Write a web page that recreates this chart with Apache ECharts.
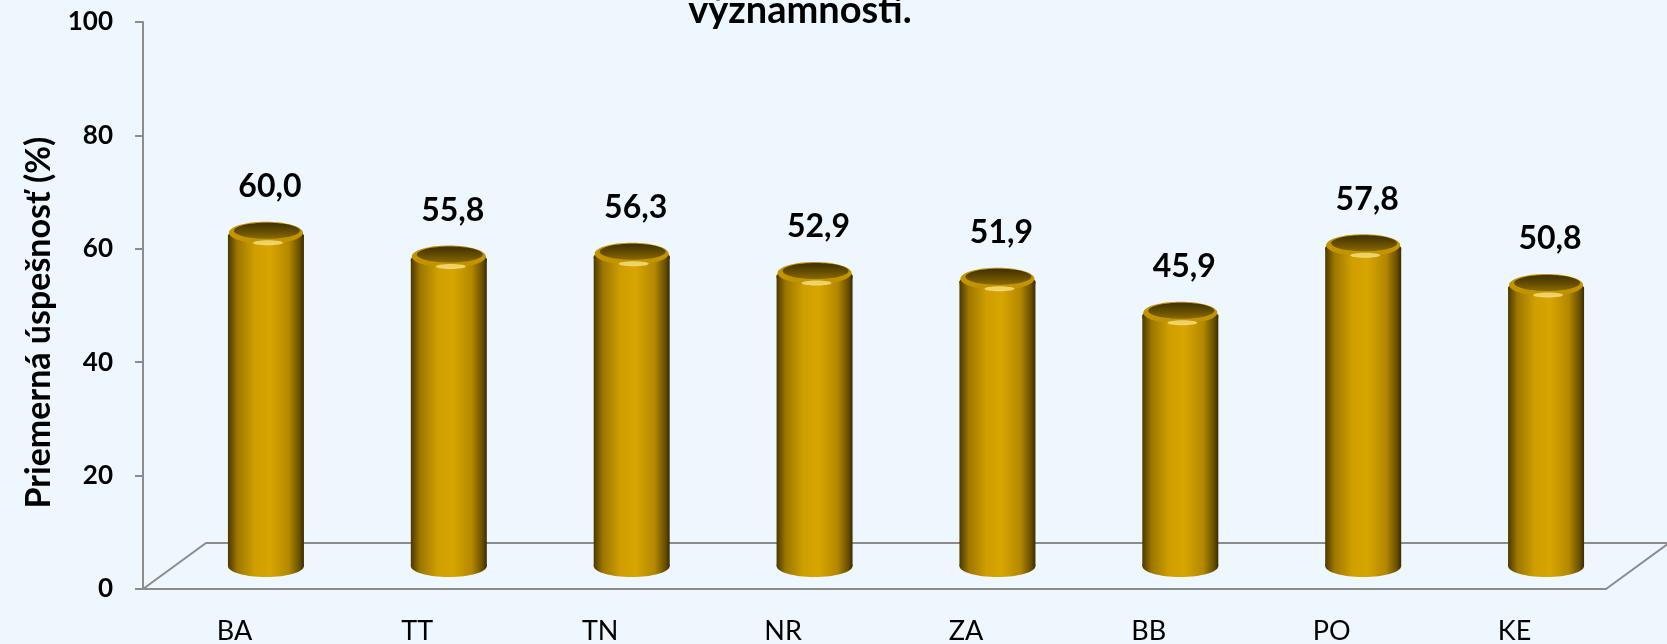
<!DOCTYPE html>
<html>
<head>
<meta charset="utf-8">
<script src="https://cdn.jsdelivr.net/npm/echarts@6/dist/echarts.min.js"></script>
<style>
  html, body { margin: 0; padding: 0; background: #eef7fe; }
  #chart { width: 1667px; height: 644px; }
</style>
</head>
<body>
<div id="chart"></div>
<script>
var kraje = ['BA', 'TT', 'TN', 'NR', 'ZA', 'BB', 'PO', 'KE'];
var uspesnost = [60.0, 55.8, 56.3, 52.9, 51.9, 45.9, 57.8, 50.8];
var osY = [0, 20, 40, 60, 80, 100];

// geometria "3D" podlahy
var gLeft = 143, gRight = 61, gTop = 22, gBottom = 55;
var hlbkaX = 63, hlbkaY = 46;
var sirka = 1667, vyska = 644;

var myChart = echarts.init(document.getElementById('chart'));

var valec = new echarts.graphic.LinearGradient(0, 0, 1, 0, [
    {offset: 0, color: '#4a3800'},
    {offset: 0.12, color: '#9c7600'},
    {offset: 0.35, color: '#cf9e00'},
    {offset: 0.55, color: '#d8a600'},
    {offset: 0.8, color: '#b48800'},
    {offset: 0.94, color: '#6a5000'},
    {offset: 1, color: '#3a2c00'}
]);
var vrch = new echarts.graphic.LinearGradient(0, 0, 0, 1, [
    {offset: 0, color: '#3e2f00'},
    {offset: 0.6, color: '#6a5100'},
    {offset: 1, color: '#8a6a00'}
]);

function renderValec(params, api) {
    var i = api.value(0);
    var v = api.value(1);
    var top = api.coord([i, v]);
    var base = api.coord([i, 0]);
    var dx = hlbkaX / 2, dy = hlbkaY / 2;
    var cx = top[0] + dx;
    var ty = top[1] - dy + 9;
    var by = base[1] - dy;
    var rx = 38, ry = 11;
    return {
        type: 'group',
        children: [
            {type: 'rect', shape: {x: cx - rx, y: ty, width: rx * 2, height: by - ty}, style: {fill: valec}},
            {type: 'ellipse', shape: {cx: cx, cy: by, rx: rx, ry: ry}, style: {fill: valec}},
            {type: 'ellipse', shape: {cx: cx, cy: ty + 2, rx: rx, ry: ry + 2}, style: {fill: valec}},
            {type: 'ellipse', shape: {cx: cx, cy: ty - 2, rx: rx - 1, ry: ry}, style: {fill: '#c29400'}},
            {type: 'ellipse', shape: {cx: cx + 1, cy: ty - 4, rx: rx - 5, ry: ry - 3}, style: {fill: vrch}},
            {type: 'ellipse', shape: {cx: cx + 2, cy: ty + 8, rx: 15, ry: 2.5}, style: {fill: 'rgba(255,236,150,0.7)'}},
            {type: 'text', x: cx + 4, y: ty - 32, style: {
                text: v.toFixed(1).replace('.', ','),
                fontSize: 32, fontWeight: 'bold', fontFamily: 'Lato',
                fill: '#000', align: 'center', verticalAlign: 'bottom'
            }}
        ]
    };
}

var option = {
    backgroundColor: '#eef7fe',
    animation: false,
    title: {
        text: 'významnosti.',
        left: 800,
        textAlign: 'center',
        top: -8,
        padding: 0,
        textStyle: {fontSize: 38, fontWeight: 'bold', fontFamily: 'Lato', color: '#000'}
    },
    grid: {left: gLeft, right: gRight, top: gTop, bottom: gBottom, outerBoundsMode: 'none', containLabel: false},
    xAxis: {
        type: 'category',
        data: kraje,
        axisLine: {lineStyle: {color: '#8c8c8c', width: 2}},
        axisTick: {show: false},
        axisLabel: {margin: 29, fontSize: 27, fontFamily: 'Lato', color: '#000'}
    },
    yAxis: {
        type: 'value',
        min: 0, max: 100, interval: 20,
        name: 'Priemerná úspešnosť (%)',
        nameLocation: 'middle',
        nameGap: 87,
        nameTextStyle: {fontSize: 34, fontWeight: 'bold', fontFamily: 'Lato', color: '#000',
            padding: [0, 34, 0, 0]},
        axisLine: {show: true, lineStyle: {color: '#8c8c8c', width: 2}},
        axisTick: {show: true, inside: false, length: 8, lineStyle: {color: '#8c8c8c', width: 2}},
        axisLabel: {margin: 30, fontSize: 26, fontWeight: 'bold', fontFamily: 'Lato', color: '#000',
            formatter: function (v) { return osY.indexOf(v) >= 0 ? String(v) : ''; }},
        splitLine: {show: false}
    },
    graphic: [
        {
            type: 'polyline',
            silent: true,
            shape: {points: [
                [gLeft, vyska - gBottom],
                [gLeft + hlbkaX, vyska - gBottom - hlbkaY],
                [sirka - gRight + hlbkaX, vyska - gBottom - hlbkaY],
                [sirka - gRight, vyska - gBottom]
            ]},
            style: {stroke: '#8c8c8c', lineWidth: 2, fill: null}
        }
    ],
    series: [{
        type: 'custom',
        renderItem: renderValec,
        data: uspesnost.map(function (v, i) { return [i, v]; }),
        z: 5
    }]
};
myChart.setOption(option);
</script>
</body>
</html>
